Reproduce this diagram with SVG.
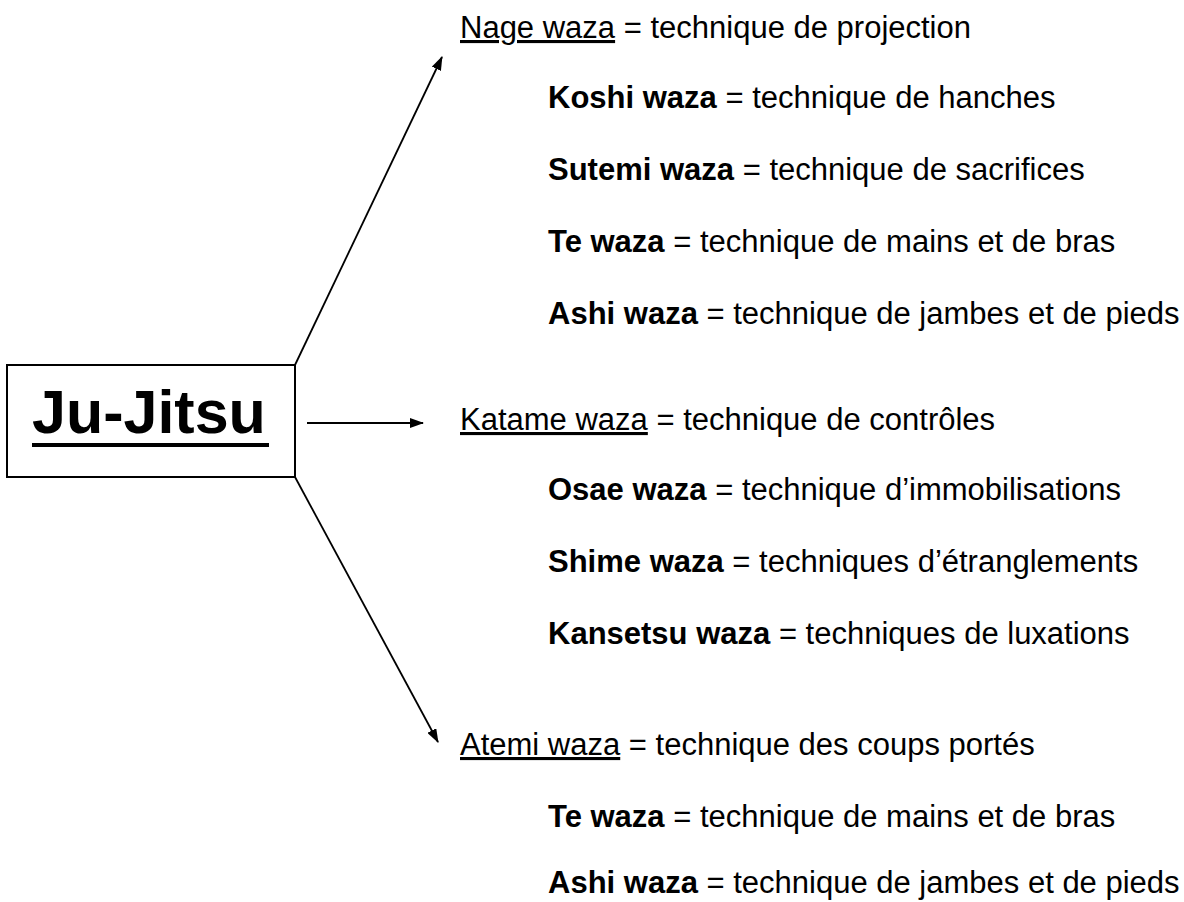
<svg xmlns="http://www.w3.org/2000/svg" width="1184" height="902" viewBox="0 0 1184 902">
<defs>
<style>
text{font-family:"Liberation Sans",Arial,sans-serif;fill:#000}
.h{font-size:31px}
.s{font-size:31px}
.b{font-weight:bold}
.u{text-decoration:underline}
.c{stroke:#000;stroke-width:1.8;fill:none}
</style>
<marker id="ah" viewBox="0 0 14 10" refX="13" refY="5" markerWidth="14" markerHeight="10" markerUnits="userSpaceOnUse" orient="auto">
<path d="M0,0 L14,5 L0,10 Z" fill="#000"/>
</marker>
</defs>
<rect width="1184" height="902" fill="#fff"/>
<g id="connectors">
<line class="c" x1="295" y1="365" x2="442" y2="57" marker-end="url(#ah)"/>
<line class="c" x1="307" y1="423" x2="423" y2="423" marker-end="url(#ah)"/>
<line class="c" x1="295" y1="477" x2="438" y2="742" marker-end="url(#ah)"/>
</g>
<g id="root">
<rect x="7" y="365" width="288" height="112" fill="#fff" stroke="#000" stroke-width="2"/>
<text x="32" y="433" font-size="61" font-weight="bold">Ju-Jitsu</text>
<rect x="32" y="443" width="237" height="4" fill="#000"/>
</g>
<g id="nage">
<text class="h" x="460" y="38"><tspan class="u">Nage waza</tspan> = technique de projection</text>
<text class="s" x="548" y="108"><tspan class="b">Koshi waza</tspan> = technique de hanches</text>
<text class="s" x="548" y="180"><tspan class="b">Sutemi waza</tspan> = technique de sacrifices</text>
<text class="s" x="548" y="252"><tspan class="b">Te waza</tspan> = technique de mains et de bras</text>
<text class="s" x="548" y="324"><tspan class="b">Ashi waza</tspan> = technique de jambes et de pieds</text>
</g>
<g id="katame">
<text class="h" x="460" y="430"><tspan class="u">Katame waza</tspan> = technique de contrôles</text>
<text class="s" x="548" y="500"><tspan class="b">Osae waza</tspan> = technique d’immobilisations</text>
<text class="s" x="548" y="572"><tspan class="b">Shime waza</tspan> = techniques d’étranglements</text>
<text class="s" x="548" y="644"><tspan class="b">Kansetsu waza</tspan> = techniques de luxations</text>
</g>
<g id="atemi">
<text class="h" x="460" y="755"><tspan class="u">Atemi waza</tspan> = technique des coups portés</text>
<text class="s" x="548" y="827"><tspan class="b">Te waza</tspan> = technique de mains et de bras</text>
<text class="s" x="548" y="893"><tspan class="b">Ashi waza</tspan> = technique de jambes et de pieds</text>
</g>
</svg>
